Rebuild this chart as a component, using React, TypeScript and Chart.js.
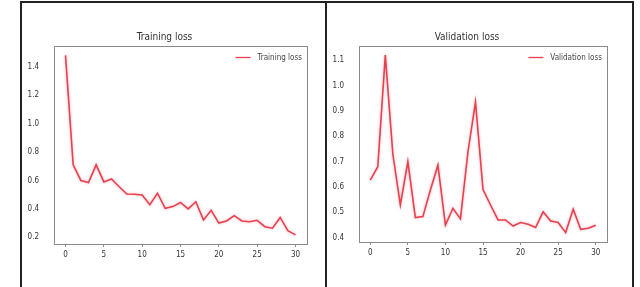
import React, { useEffect, useRef } from "react";
import { Chart, registerables } from "chart.js";

Chart.register(...registerables);

const epochs = [0, 1, 2, 3, 4, 5, 6, 7, 8, 9, 10, 11, 12, 13, 14, 15, 16, 17, 18, 19, 20, 21, 22, 23, 24, 25, 26, 27, 28, 29, 30];
const trainingLoss = [1.48, 0.71, 0.6, 0.585, 0.71, 0.59, 0.61, 0.556, 0.505, 0.503, 0.498, 0.43, 0.51, 0.404, 0.416, 0.445, 0.4, 0.45, 0.322, 0.39, 0.3, 0.315, 0.352, 0.315, 0.31, 0.32, 0.275, 0.264, 0.34, 0.247, 0.217];
const validationLoss = [0.627, 0.68, 1.12, 0.73, 0.529, 0.7, 0.479, 0.483, 0.588, 0.686, 0.45, 0.516, 0.474, 0.739, 0.935, 0.59, 0.529, 0.47, 0.47, 0.446, 0.46, 0.453, 0.44, 0.502, 0.466, 0.46, 0.42, 0.512, 0.433, 0.437, 0.449];
const xTicks = [0, 5, 10, 15, 20, 25, 30];
const trainYTicks = [0.2, 0.4, 0.6, 0.8, 1.0, 1.2, 1.4];
const valYTicks = [0.4, 0.5, 0.6, 0.7, 0.8, 0.9, 1.0, 1.1];

const FONT = "'DejaVu Sans Condensed', 'Liberation Sans Narrow', 'DejaVu Sans', sans-serif";
const LINE_COLOR = "#e8414d";
const SPINE = "#8a8a8a";
const TEXT = "#333333";

type Props = {
  title: string;
  label: string;
  values: number[];
  yTicks: number[];
  yMin: number;
  yMax: number;
  left: number;
  width: number;
  padRight: number;
  xAxisHeight: number;
};

const framePlugin = {
  id: "frame",
  afterDatasetsDraw(chart: any) {
    const { ctx, chartArea } = chart;
    ctx.save();
    ctx.strokeStyle = SPINE;
    ctx.lineWidth = 1;
    ctx.strokeRect(
      Math.round(chartArea.left) + 0.5,
      Math.round(chartArea.top) + 0.5,
      Math.round(chartArea.right - chartArea.left),
      Math.round(chartArea.bottom - chartArea.top)
    );
    ctx.restore();
  },
};

const glowPlugin = {
  id: "glow",
  beforeDatasetsDraw(chart: any) {
    const ctx = chart.ctx;
    ctx.save();
    ctx.shadowColor = "rgba(215, 90, 120, 0.45)";
    ctx.shadowBlur = 3;
  },
  afterDatasetsDraw(chart: any) {
    chart.ctx.restore();
  },
};

const legendPlugin = {
  id: "insideLegend",
  afterDraw(chart: any) {
    const { ctx, chartArea } = chart;
    const ds = chart.data.datasets[0];
    ctx.save();
    ctx.font = `8px ${FONT}`;
    ctx.textBaseline = "middle";
    ctx.textAlign = "left";
    const text = ds.label as string;
    const tw = ctx.measureText(text).width;
    const y = chartArea.top + 11.5;
    const tx = chartArea.right - 5 - tw;
    ctx.strokeStyle = ds.borderColor;
    ctx.lineWidth = 1.3;
    ctx.beginPath();
    ctx.moveTo(tx - 22, y);
    ctx.lineTo(tx - 7, y);
    ctx.stroke();
    ctx.fillStyle = "#444";
    ctx.fillText(text, tx, y);
    ctx.restore();
  },
};

function LossChart(p: Props) {
  const ref = useRef<HTMLCanvasElement | null>(null);
  useEffect(() => {
    if (!ref.current) return;
    const chart = new Chart(ref.current, {
      type: "line",
      data: {
        datasets: [
          {
            label: p.label,
            data: epochs.map((e, i) => ({ x: e, y: p.values[i] })),
            borderColor: LINE_COLOR,
            borderWidth: 1.6,
            pointRadius: 0,
            tension: 0,
            fill: false,
          },
        ],
      },
      options: {
        animation: false,
        responsive: false,
        maintainAspectRatio: false,
        devicePixelRatio: 1,
        layout: { padding: { left: 0, right: p.padRight, top: 0, bottom: 0 } },
        plugins: {
          legend: { display: false },
          tooltip: { enabled: false },
          title: {
            display: true,
            text: p.title,
            color: TEXT,
            font: { family: FONT, size: 10, weight: "normal", lineHeight: 1.2 },
            padding: { top: 28, bottom: 3 },
          },
        },
        scales: {
          x: {
            type: "linear",
            min: -1.5,
            max: 31.5,
            afterBuildTicks: (scale: any) => {
              scale.ticks = xTicks.map((v) => ({ value: v }));
            },
            afterFit: (scale: any) => {
              scale.height = p.xAxisHeight;
            },
            grid: { display: true, drawOnChartArea: false, drawTicks: true, tickLength: 3, color: SPINE },
            border: { display: false },
            ticks: {
              color: TEXT,
              font: { family: FONT, size: 8 },
              padding: 3,
              maxRotation: 0,
              callback: (v: any) => String(v),
            },
          },
          y: {
            type: "linear",
            min: p.yMin,
            max: p.yMax,
            afterBuildTicks: (scale: any) => {
              scale.ticks = p.yTicks.map((v) => ({ value: v }));
            },
            afterFit: (scale: any) => {
              scale.width = 32;
            },
            grid: { display: false },
            border: { display: false },
            ticks: {
              color: TEXT,
              font: { family: FONT, size: 8 },
              padding: 7,
              callback: (v: any) => Number(v).toFixed(1),
            },
          },
        },
      },
      plugins: [glowPlugin, framePlugin, legendPlugin],
    } as any);
    return () => chart.destroy();
  }, []);
  return (
    <canvas
      ref={ref}
      width={p.width}
      height={284}
      style={{ position: "absolute", left: p.left, top: 3, width: p.width, height: 284 }}
    />
  );
}

export default function App() {
  useEffect(() => {
    document.body.style.margin = "0";
    document.body.style.overflow = "hidden";
    document.body.style.background = "#ffffff";
  }, []);
  return (
    <div style={{ position: "relative", width: 640, height: 287, overflow: "hidden", background: "#fff" }}>
      <div
        style={{
          position: "absolute",
          left: 20,
          top: 1,
          width: 610,
          height: 300,
          borderTop: "2px solid #222",
          borderLeft: "2px solid #222",
          borderRight: "2px solid #222",
        }}
      />
      <div style={{ position: "absolute", left: 325, top: 1, width: 2, height: 290, background: "#222" }} />
      <LossChart
        title="Training loss"
        label="Training loss"
        values={trainingLoss}
        yTicks={trainYTicks}
        yMin={0.153}
        yMax={1.546}
        left={22}
        width={303}
        padRight={18}
        xAxisHeight={43}
      />
      <LossChart
        title="Validation loss"
        label="Validation loss"
        values={validationLoss}
        yTicks={valYTicks}
        yMin={0.383}
        yMax={1.156}
        left={327}
        width={304}
        padRight={24}
        xAxisHeight={45}
      />
    </div>
  );
}
